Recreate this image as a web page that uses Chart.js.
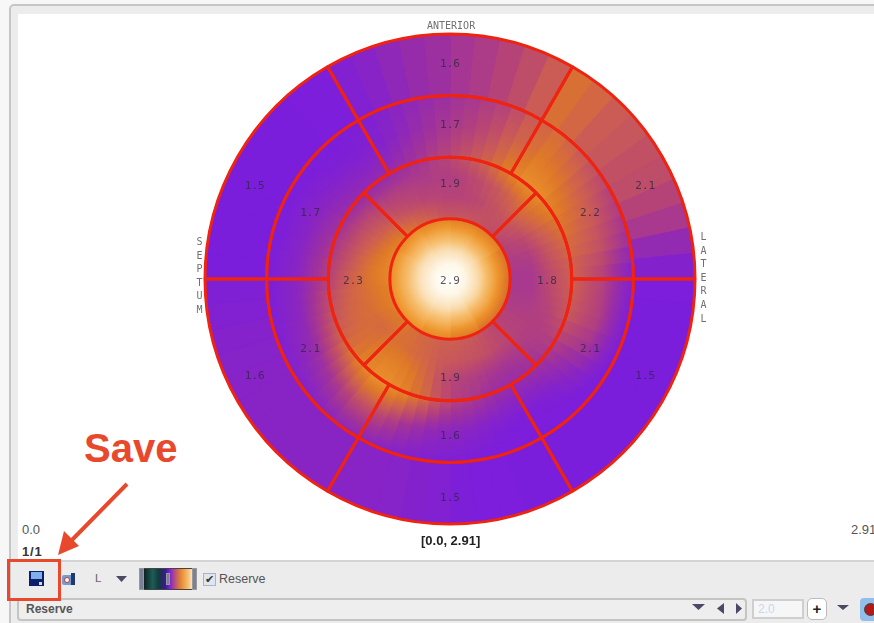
<!DOCTYPE html>
<html><head><meta charset="utf-8">
<style>
html,body{margin:0;padding:0;background:#f7f7f7}
#page{position:relative;width:874px;height:623px;overflow:hidden;background:#f7f7f7;filter:blur(.6px);font-family:"Liberation Sans",sans-serif}
#frame{position:absolute;left:9px;top:4px;width:880px;height:640px;background:#ececec;border:2px solid #c6c6c6;border-radius:5px;box-sizing:border-box}
#panel{position:absolute;left:18px;top:14px;right:-5px;height:546px;background:#fff}
canvas{position:absolute;left:200px;top:29px}
.t{position:absolute;white-space:nowrap;line-height:1}
.m{font-family:"DejaVu Sans Mono",monospace;color:#707070;font-size:10px}
.v{writing-mode:vertical-lr;text-orientation:upright;letter-spacing:2.6px}
svg{position:absolute;left:0;top:0}
#toolbar{position:absolute;left:11px;top:560px;right:0;height:38px;background:#ececec;border-top:2px solid #d4d4d4;box-sizing:border-box}
#combo{position:absolute;left:17px;top:598px;width:730px;height:23px;border:2px solid #c4c4c4;border-radius:4px;background:#eee;box-sizing:border-box}
#cmap{position:absolute;left:141px;top:568px;width:55px;height:22px;border-radius:2px;border:1px solid #444;box-sizing:border-box;background:linear-gradient(90deg,#0a1413 0%,#1d5c58 20%,#113a3a 32%,#3a1a90 44%,#7a1fdc 52%,#b5507c 62%,#e88a2c 74%,#f6c37c 88%,#fff 100%)}
.grip{position:absolute;width:5px;height:22px;top:568px;background:#7c7f98;border:1px solid #999;box-sizing:border-box}
#check{position:absolute;left:203px;top:573px;width:13px;height:13px;background:#dfe6f0;border:1px solid #a9b4c4;box-sizing:border-box;color:#333;font-size:11px;line-height:11px;text-align:center}
#input{position:absolute;left:752px;top:599px;width:52px;height:20px;background:#f6f6f6;border:2px solid #cfcfcf;box-sizing:border-box;color:#c6d8ec;font-size:12px;line-height:16px;padding-left:4px}
#plus{position:absolute;left:807px;top:598px;width:20px;height:22px;background:#fff;border:1px solid #bbb;border-radius:5px;box-sizing:border-box;font-weight:bold;font-size:15px;line-height:19px;text-align:center;color:#222}
#blue{position:absolute;left:860px;top:598px;width:20px;height:23px;background:#93bdea;border-radius:4px}
#red{position:absolute;left:864px;top:603px;width:13px;height:13px;background:#b01a1a;border-radius:50%;border:1px solid #444;box-sizing:border-box}
#redbox{position:absolute;left:7px;top:559px;width:54px;height:42px;border:3px solid #e8482c;box-sizing:border-box}
</style>
<script src="https://cdn.jsdelivr.net/npm/chart.js@4/dist/chart.umd.min.js"></script>
</head><body>
<div id="page">
<div id="frame"></div>
<div id="panel"></div>
<canvas id="heat" width="500" height="500"></canvas>
<canvas id="grid" width="500" height="500"></canvas>
<div class="t m" id="anterior" style="left:427px;top:21px">ANTERIOR</div>
<div class="t m v" id="septum" style="left:194px;top:236px">SEPTUM</div>
<div class="t m v" id="lateral" style="left:698px;top:231px">LATERAL</div>
<div class="t" style="left:22px;top:523px;font-size:13px;color:#555">0.0</div>
<div class="t" style="left:22px;top:545px;font-size:13px;font-weight:bold;color:#333;letter-spacing:.8px">1/1</div>
<div class="t" style="left:421px;top:534px;font-size:13px;font-weight:bold;color:#222">[0.0, 2.91]</div>
<div class="t" style="left:851px;top:523px;font-size:13px;color:#555">2.91</div>
<div class="t" style="left:84px;top:428px;font-size:40px;font-weight:bold;color:#e8482c">Save</div>
<div id="toolbar"></div>
<div id="combo"></div>
<div class="t" style="left:26px;top:603px;font-size:12px;font-weight:bold;color:#555">Reserve</div>
<div id="cmap"></div><div class="grip" style="left:139px"></div><div class="grip" style="left:192px"></div><div class="grip" style="left:166px;top:573px;height:12px;width:4px"></div>
<div id="check">✔</div>
<div class="t" style="left:219px;top:573px;font-size:12.5px;color:#555">Reserve</div>
<div class="t" style="left:95px;top:573px;font-size:11.5px;color:#666">L</div>
<div id="input">2.0</div><div id="plus">+</div><div id="blue"></div><div id="red"></div>
<svg width="874" height="623" viewBox="0 0 874 623">
<rect x="29" y="571" width="15" height="15" fill="#0c1f6b"/><rect x="31" y="572" width="11" height="7" fill="#7fb0ea"/><rect x="39" y="582" width="3" height="3" fill="#d8d8e8"/>
<rect x="62" y="575" width="13" height="10" rx="2" fill="#6f9fd0"/><rect x="71" y="573" width="4" height="12" fill="#203a70"/><circle cx="67" cy="580" r="2.5" fill="#fff" stroke="#c33" stroke-width="1"/>
<path d="M116 576h11l-5.500 6z" fill="#4a4a66"/>
<path d="M692 604h13l-6.500 6z" fill="#4a4a66"/><path d="M724 603v11l-7-5.500z" fill="#4a4a66"/><path d="M736 603v11l6-5.500z" fill="#4a4a66"/><path d="M837 605h12l-6 5z" fill="#4a4a66"/>
<path d="M127 484 L68 544" stroke="#e8482c" stroke-width="4" fill="none"/><path d="M58 555 L64 531 L79 546 Z" fill="#e8482c"/>
</svg>
<div id="redbox"></div>
</div>
<script>
// 17-segment labels, clockwise from the top of each ring
const outerLabels=["1.6","2.1","1.5","1.5","1.6","1.5"];
const middleLabels=["1.7","2.2","2.1","1.6","2.1","1.7"];
const innerLabels=["1.9","1.8","1.9","2.3"];
const apexLabels=["2.9"];
// Reserve, clockwise from the top
const outerWedges=[1.78,1.82,1.88,1.94,2.03,2.15,2.1,2.03,2.0,1.96,1.94,1.88,1.8,1.65,1.52,1.43,1.41,1.4,1.4,1.4,1.4,1.4,1.4,1.4,1.4,1.41,1.41,1.42,1.43,1.46,1.5,1.52,1.54,1.55,1.56,1.57,1.57,1.57,1.56,1.56,1.55,1.54,1.53,1.5,1.48,1.4,1.4,1.4,1.4,1.4,1.4,1.4,1.4,1.42,1.45,1.5,1.55,1.62,1.68,1.73];
const midOuter=[1.76,1.79,1.83,1.87,1.94,2.02,2.08,2.12,2.06,2.0,1.95,1.9,1.85,1.82,1.77,1.72,1.62,1.52,1.48,1.47,1.45,1.44,1.43,1.42,1.41,1.4,1.4,1.4,1.4,1.4,1.4,1.4,1.41,1.43,1.44,1.46,1.47,1.48,1.5,1.52,1.55,1.58,1.6,1.6,1.58,1.55,1.52,1.5,1.49,1.48,1.47,1.46,1.45,1.45,1.44,1.44,1.43,1.43,1.42,1.42,1.42,1.42,1.42,1.43,1.44,1.46,1.48,1.52,1.57,1.62,1.67,1.72];
const midCentre=[1.82,1.85,1.9,1.95,2.02,2.08,2.15,2.2,2.18,2.15,2.1,2.07,2.05,2.02,1.99,1.97,1.92,1.88,1.86,1.85,1.85,1.84,1.8,1.76,1.68,1.6,1.55,1.5,1.48,1.47,1.47,1.48,1.5,1.53,1.56,1.58,1.6,1.64,1.7,1.76,1.84,1.9,1.95,1.94,1.88,1.82,1.76,1.72,1.68,1.65,1.63,1.61,1.6,1.59,1.58,1.57,1.56,1.55,1.55,1.54,1.53,1.52,1.5,1.5,1.49,1.5,1.52,1.57,1.62,1.68,1.73,1.78];
const ringBoundary=[1.93,1.97,2.02,2.07,2.14,2.22,2.28,2.33,2.34,2.33,2.28,2.25,2.2,2.17,2.13,2.1,2.07,2.06,2.05,2.04,2.02,2.0,1.95,1.9,1.84,1.8,1.75,1.72,1.7,1.68,1.68,1.7,1.74,1.78,1.82,1.85,1.92,2.0,2.1,2.18,2.27,2.32,2.35,2.35,2.3,2.25,2.18,2.12,2.06,2.02,1.98,1.95,1.92,1.88,1.85,1.83,1.8,1.78,1.75,1.73,1.7,1.68,1.66,1.65,1.65,1.66,1.68,1.71,1.75,1.79,1.84,1.88];
const innerOuter=[1.85,1.87,1.9,1.93,1.97,2.0,2.04,2.08,2.12,2.15,2.13,2.1,2.06,2.03,2.0,1.98,1.96,1.94,1.93,1.92,1.9,1.88,1.86,1.85,1.84,1.83,1.82,1.8,1.79,1.78,1.79,1.8,1.82,1.84,1.86,1.88,1.92,1.98,2.07,2.14,2.2,2.24,2.26,2.26,2.24,2.2,2.16,2.14,2.12,2.1,2.09,2.08,2.07,2.05,2.03,2.0,1.98,1.96,1.94,1.93,1.91,1.9,1.88,1.87,1.85,1.85,1.84,1.84,1.83,1.83,1.84,1.84];
const innerMid=[1.88,1.88,1.89,1.9,1.92,1.95,1.96,1.98,1.99,2.0,1.98,1.95,1.91,1.88,1.85,1.83,1.81,1.8,1.8,1.8,1.81,1.82,1.83,1.85,1.86,1.87,1.88,1.9,1.91,1.93,1.95,1.96,1.97,1.98,1.99,2.0,2.01,2.02,2.05,2.08,2.1,2.12,2.14,2.15,2.15,2.14,2.12,2.12,2.13,2.15,2.15,2.16,2.16,2.17,2.17,2.17,2.15,2.13,2.1,2.08,2.06,2.04,2.02,2.0,1.97,1.95,1.93,1.92,1.9,1.9,1.89,1.88];
const innerEdge=[2.0,2.0,2.0,2.0,1.99,1.98,1.96,1.95,1.93,1.92,1.9,1.88,1.86,1.85,1.83,1.82,1.81,1.8,1.8,1.8,1.81,1.82,1.83,1.85,1.87,1.88,1.89,1.9,1.93,1.95,1.98,2.0,2.02,2.03,2.04,2.05,2.05,2.05,2.07,2.08,2.09,2.1,2.13,2.15,2.18,2.2,2.21,2.22,2.23,2.25,2.25,2.25,2.26,2.28,2.3,2.3,2.3,2.3,2.29,2.28,2.26,2.25,2.22,2.2,2.17,2.15,2.12,2.1,2.07,2.05,2.02,2.0];
const apexEdge=[2.22,2.2,2.12,2.08,2.1,2.18,2.28,2.34,2.34,2.34,2.3,2.26];
const apexOuter=[2.5,2.48,2.45,2.45,2.46,2.5,2.54,2.56,2.56,2.56,2.54,2.52];
const apexMid=[2.72,2.71,2.7,2.7,2.7,2.72,2.74,2.75,2.75,2.75,2.74,2.73];
const apexInner=[2.87,2.87,2.86,2.86,2.86,2.87,2.87,2.88,2.88,2.88,2.87,2.87];
const apexPeak=[2.91,2.91,2.91,2.91,2.91,2.91,2.91,2.91,2.91,2.91,2.91,2.91];

const cmapStops=[[1.3,122,30,222],[1.45,124,30,218],[1.6,140,38,190],[1.75,160,50,155],[1.9,185,70,115],[2.05,205,95,80],[2.2,222,120,40],[2.4,238,150,45],[2.6,246,190,110],[2.75,250,225,185],[2.91,255,255,250]];
function cmap(v){
  for(let i=1;i<cmapStops.length;i++){
    const a=cmapStops[i-1],b=cmapStops[i];
    if(v<=b[0]){const t=Math.max(0,(v-a[0])/(b[0]-a[0]));
      return `rgb(${[1,2,3].map(k=>Math.round(a[k]+(b[k]-a[k])*t)).join(",")})`;}
  }
  return "rgb(255,255,250)";
}
const heatCanvas=document.getElementById("heat");
const hctx=heatCanvas.getContext("2d");
const C=250;
function radial(ins,outs,r0,r1){
  return ins.map((a,i)=>{
    const g=hctx.createRadialGradient(C,C,r0,C,C,r1),b=outs[i];
    for(let s=0;s<=6;s++){g.addColorStop(s/6,cmap(a+(b-a)*s/6));}
    return g;
  });
}
function band(ins,outs,r0,r1){
  const fill=radial(ins,outs,r0,r1);
  return {data:ins.map(()=>1),backgroundColor:fill,borderColor:fill,borderWidth:1.5,weight:r1-r0};
}
const outerFill=outerWedges.map(cmap);
new Chart(heatCanvas,{type:"doughnut",data:{labels:[],datasets:[
  {data:outerWedges.map(()=>1),backgroundColor:outerFill,borderColor:outerFill,borderWidth:1.5,weight:61},
  band(midCentre,midOuter,153,184),
  band(ringBoundary,midCentre,123,153),
  band(innerOuter,ringBoundary,102,123),
  band(innerMid,innerOuter,82,102),
  band(innerEdge,innerMid,61,82),
  band(apexOuter,apexEdge,45,61),
  band(apexMid,apexOuter,30,45),
  band(apexInner,apexMid,15,30),
  band(apexPeak,apexInner,0,15)
]},options:{responsive:false,animation:false,cutout:0,radius:245,rotation:0,
  layout:{padding:0},plugins:{legend:{display:false},tooltip:{enabled:false}},events:[]}});

const labelPlugin={id:"segmentLabels",afterDraw(chart){
  const c=chart.ctx,src=[outerLabels,middleLabels,innerLabels];
  c.save();c.font='11px "DejaVu Sans Mono",monospace';c.fillStyle="rgba(50,40,70,.8)";c.textAlign="center";c.textBaseline="middle";
  const cx=chart.chartArea.left+chart.chartArea.width/2,cy=chart.chartArea.top+chart.chartArea.height/2;
  src.forEach((labels,d)=>{
    chart.getDatasetMeta(d).data.forEach((arc,i)=>{
      let a=(arc.startAngle+arc.endAngle)/2;
      const six=labels.length===6;
      if(six&&i%3!==0){a+=((i===1||i===4)?1:-1)*4*Math.PI/180;}
      const r=(arc.innerRadius+arc.outerRadius)/2+(d===2?6:3);
      c.fillText(labels[i],cx+r*Math.cos(a),cy+r*Math.sin(a)+2);
    });
  });
  c.fillText(apexLabels[0],cx,cy+2);
  c.restore();
}};
const red="#ee2310";
new Chart(document.getElementById("grid"),{type:"doughnut",data:{labels:[],datasets:[
  {data:outerLabels.map(()=>1),rotation:-30,backgroundColor:"rgba(0,0,0,0)",borderColor:red,borderWidth:3,borderAlign:"center",weight:1},
  {data:middleLabels.map(()=>1),rotation:-30,backgroundColor:"rgba(0,0,0,0)",borderColor:red,borderWidth:3,borderAlign:"center",weight:1},
  {data:innerLabels.map(()=>1),rotation:-45,backgroundColor:"rgba(0,0,0,0)",borderColor:red,borderWidth:3,borderAlign:"center",weight:1}
]},options:{responsive:false,animation:false,cutout:61,radius:245,
  layout:{padding:0},plugins:{legend:{display:false},tooltip:{enabled:false}},events:[]},plugins:[labelPlugin]});
</script>
</body></html>
